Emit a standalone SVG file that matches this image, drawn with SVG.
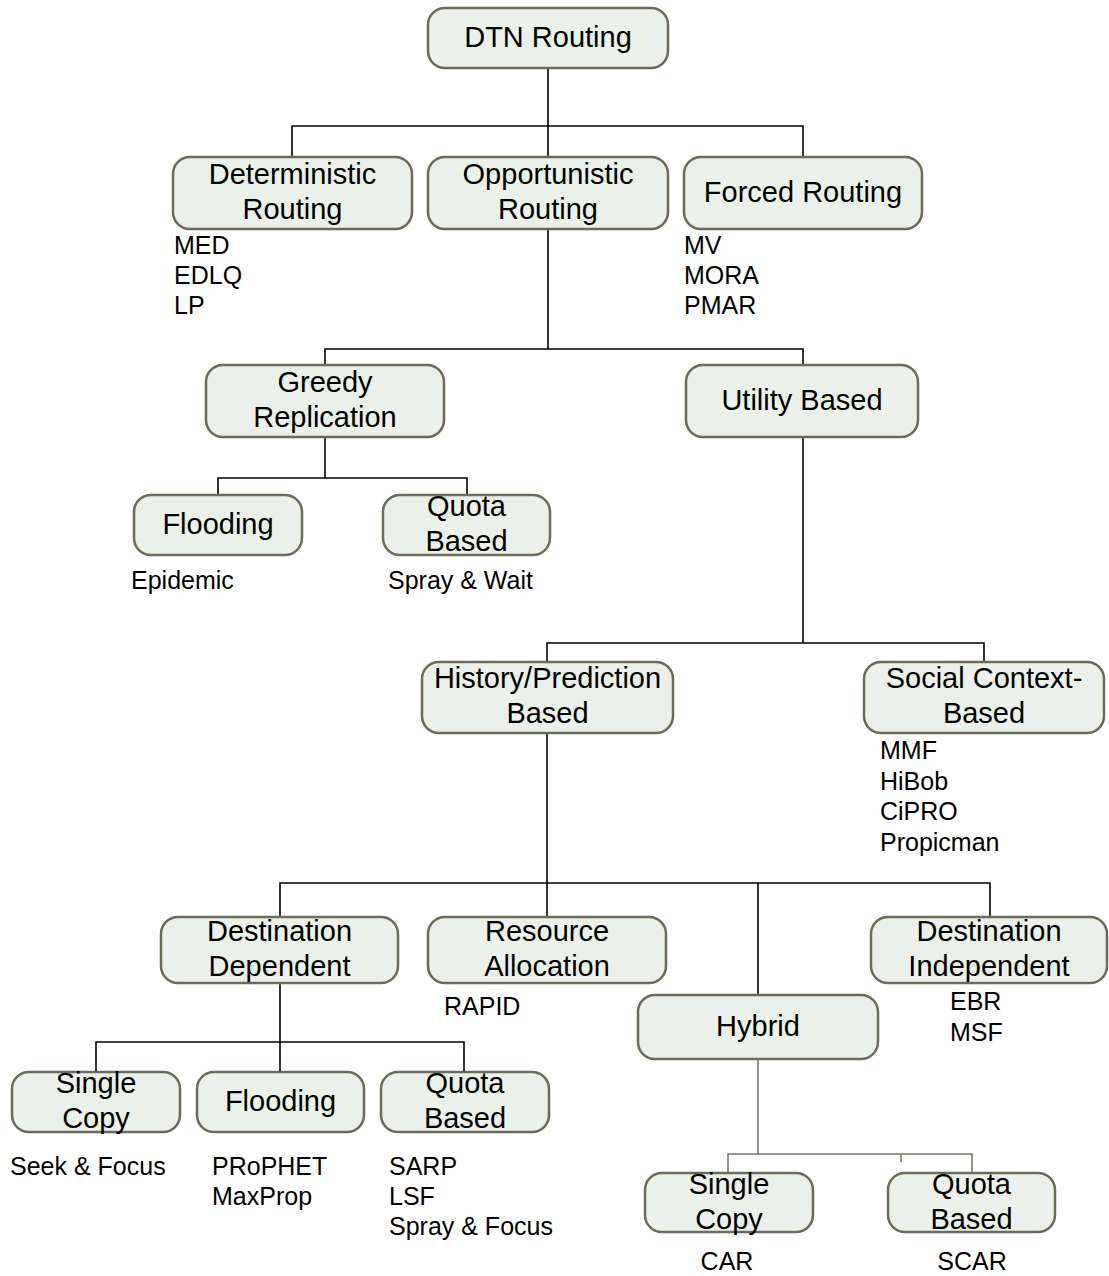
<svg xmlns="http://www.w3.org/2000/svg" width="1109" height="1276" viewBox="0 0 1109 1276">
  <style>
    .box { fill: #ebf1ea; stroke: #6b6b58; stroke-width: 2.5; }
    .nt { font-family: "Liberation Sans", Arial, sans-serif; font-size: 29px; fill: #000; text-anchor: middle; }
    .lb { font-family: "Liberation Sans", Arial, sans-serif; font-size: 25px; fill: #000; }
    .lc { text-anchor: middle; }
    .wire { fill: none; stroke: #000; stroke-width: 1.6; }
    .wire2 { fill: none; stroke: #77776a; stroke-width: 1.6; }
  </style>
  <rect width="1109" height="1276" fill="#fff"/>

  <!-- tree connectors -->
  <g id="connectors">
    <path class="wire" d="M548 68V126M292 157V126H803V157M548 126V157"/>
    <path class="wire" d="M548 229V349M325 365V349H803V365"/>
    <path class="wire" d="M325 437V478M218 495V478H467V495"/>
    <path class="wire" d="M803 437V643M547 662V643H984V662"/>
    <path class="wire" d="M547 733V883M280 917V883H990V917M547 883V917M758 883V995"/>
    <path class="wire" d="M280 983V1042M96 1072V1042H464V1072M280 1042V1072"/>
    <path class="wire2" d="M758 1059V1154M728 1173V1154H972V1173M901 1154V1162"/>
  </g>

  <g id="n-dtn">
    <rect class="box" x="428" y="8" width="240" height="60" rx="17"/>
    <text class="nt" x="548" y="47">DTN Routing</text>
  </g>
  <g id="n-deterministic">
    <rect class="box" x="173" y="157" width="239" height="72" rx="17"/>
    <text class="nt" x="292.5" y="184">Deterministic</text>
    <text class="nt" x="292.5" y="219">Routing</text>
  </g>
  <g id="n-opportunistic">
    <rect class="box" x="428" y="157" width="240" height="72" rx="17"/>
    <text class="nt" x="548" y="184">Opportunistic</text>
    <text class="nt" x="548" y="219">Routing</text>
  </g>
  <g id="n-forced">
    <rect class="box" x="684" y="157" width="238" height="72" rx="17"/>
    <text class="nt" x="803" y="202">Forced Routing</text>
  </g>
  <g id="n-greedy">
    <rect class="box" x="206" y="365" width="238" height="72" rx="17"/>
    <text class="nt" x="325" y="392">Greedy</text>
    <text class="nt" x="325" y="427">Replication</text>
  </g>
  <g id="n-utility">
    <rect class="box" x="686" y="365" width="232" height="72" rx="17"/>
    <text class="nt" x="802" y="410">Utility Based</text>
  </g>
  <g id="n-flooding1">
    <rect class="box" x="134" y="495" width="168" height="60" rx="17"/>
    <text class="nt" x="218" y="534">Flooding</text>
  </g>
  <g id="n-quota1">
    <rect class="box" x="383" y="495" width="167" height="60" rx="17"/>
    <text class="nt" x="466.5" y="516">Quota</text>
    <text class="nt" x="466.5" y="551">Based</text>
  </g>
  <g id="n-history">
    <rect class="box" x="422" y="662" width="251" height="71" rx="17"/>
    <text class="nt" x="547.5" y="688">History/Prediction</text>
    <text class="nt" x="547.5" y="723">Based</text>
  </g>
  <g id="n-social">
    <rect class="box" x="864" y="662" width="240" height="71" rx="17"/>
    <text class="nt" x="984" y="688">Social Context-</text>
    <text class="nt" x="984" y="723">Based</text>
  </g>
  <g id="n-destdep">
    <rect class="box" x="161" y="917" width="237" height="66" rx="17"/>
    <text class="nt" x="279.5" y="941">Destination</text>
    <text class="nt" x="279.5" y="976">Dependent</text>
  </g>
  <g id="n-resource">
    <rect class="box" x="428" y="917" width="238" height="66" rx="17"/>
    <text class="nt" x="547" y="941">Resource</text>
    <text class="nt" x="547" y="976">Allocation</text>
  </g>
  <g id="n-destind">
    <rect class="box" x="871" y="917" width="236" height="66" rx="17"/>
    <text class="nt" x="989" y="941">Destination</text>
    <text class="nt" x="989" y="976">Independent</text>
  </g>
  <g id="n-hybrid">
    <rect class="box" x="638" y="995" width="240" height="64" rx="17"/>
    <text class="nt" x="758" y="1036">Hybrid</text>
  </g>
  <g id="n-single1">
    <rect class="box" x="12" y="1072" width="168" height="60" rx="17"/>
    <text class="nt" x="96" y="1093">Single</text>
    <text class="nt" x="96" y="1128">Copy</text>
  </g>
  <g id="n-flooding2">
    <rect class="box" x="197" y="1072" width="167" height="60" rx="17"/>
    <text class="nt" x="280.5" y="1111">Flooding</text>
  </g>
  <g id="n-quota2">
    <rect class="box" x="381" y="1072" width="168" height="60" rx="17"/>
    <text class="nt" x="465" y="1093">Quota</text>
    <text class="nt" x="465" y="1128">Based</text>
  </g>
  <g id="n-single2">
    <rect class="box" x="645" y="1173" width="168" height="59" rx="17"/>
    <text class="nt" x="729" y="1194">Single</text>
    <text class="nt" x="729" y="1229">Copy</text>
  </g>
  <g id="n-quota3">
    <rect class="box" x="888" y="1173" width="167" height="59" rx="17"/>
    <text class="nt" x="971.5" y="1194">Quota</text>
    <text class="nt" x="971.5" y="1229">Based</text>
  </g>

  <!-- protocol examples under each category -->
  <g id="examples">
    <text class="lb" x="174" y="254">MED</text>
    <text class="lb" x="174" y="284">EDLQ</text>
    <text class="lb" x="174" y="314">LP</text>
    <text class="lb" x="684" y="254">MV</text>
    <text class="lb" x="684" y="284">MORA</text>
    <text class="lb" x="684" y="314">PMAR</text>
    <text class="lb" x="131" y="589">Epidemic</text>
    <text class="lb" x="388" y="589">Spray &amp; Wait</text>
    <text class="lb" x="880" y="759">MMF</text>
    <text class="lb" x="880" y="790">HiBob</text>
    <text class="lb" x="880" y="820">CiPRO</text>
    <text class="lb" x="880" y="851">Propicman</text>
    <text class="lb" x="444" y="1015">RAPID</text>
    <text class="lb" x="950" y="1010">EBR</text>
    <text class="lb" x="950" y="1041">MSF</text>
    <text class="lb" x="10" y="1175">Seek &amp; Focus</text>
    <text class="lb" x="212" y="1175">PRoPHET</text>
    <text class="lb" x="212" y="1205">MaxProp</text>
    <text class="lb" x="389" y="1175">SARP</text>
    <text class="lb" x="389" y="1205">LSF</text>
    <text class="lb" x="389" y="1235">Spray &amp; Focus</text>
    <text class="lb lc" x="727" y="1270">CAR</text>
    <text class="lb lc" x="972" y="1270">SCAR</text>
  </g>
</svg>
